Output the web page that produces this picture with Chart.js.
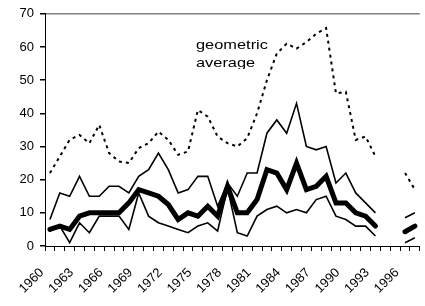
<!DOCTYPE html>
<html>
<head>
<meta charset="utf-8">
<script src="https://cdn.jsdelivr.net/npm/chart.js@4/dist/chart.umd.min.js"></script>
<style>
html,body{margin:0;padding:0;background:#fff;width:425px;height:306px;overflow:hidden;}
#wrap{position:relative;width:425px;height:306px;overflow:hidden;}
#c{position:absolute;left:0;top:0;}
#note{position:absolute;left:195.5px;top:36px;height:33px;overflow:hidden;white-space:nowrap;
  font-family:"Liberation Sans",Arial,sans-serif;font-size:13px;line-height:18.4px;color:#000;
  transform:scaleX(1.26);transform-origin:0 0;}
</style>
</head>
<body>
<div id="wrap">
<canvas id="c" width="440" height="306"></canvas>
<div id="note">geometric<br>average</div>
</div>
<script>
// ---- data ----
const years = ['1960','1961','1962','1963','1964','1965','1966','1967','1968','1969',
               '1970','1971','1972','1973','1974','1975','1976','1977','1978','1979',
               '1980','1981','1982','1983','1984','1985','1986','1987','1988','1989',
               '1990','1991','1992','1993','1994','1995','1996','1997'];
const tickLabelYears = ['1960','1963','1966','1969','1972','1975','1978','1981','1984','1987','1990','1993','1996'];
const yTickValues = [0,10,20,30,40,50,60,70];

const dottedSeries = [22,27,32,33.5,31,36.5,28,25.5,25,29.5,
                      31,34.5,32,27.5,28.5,41,39,33,31,30,
                      32.5,40,50,58,61,59.5,61.5,64,65.7,46,
                      46.5,32,33,27,null,null,22,17];
const upperSeries  = [8,16,15,21,15,15,18,18,16,21,
                      23,28,23,16,17,21,21,12,19,15,
                      22,22,34,38,34,43,30,29,30,19,
                      22,16,13,10,null,null,8.5,10];
const thickSeries  = [5,6,5,9,10,10,10,10,13,17,
                      16,15,12.5,8,10,9,12,9,18,10,
                      10,14,23,22,17,25,17,18,21,13,
                      13,10,9,6,null,null,4.3,6];
const lowerSeries  = [4.5,6,1,7,4,9,9,9,5,16,
                      9,7,6,5,4,6,7,4.5,17.5,4,
                      3,9,11,12,10,11,10,14,15,9,
                      8,6,6,3,null,null,1,2.5];

// ---- chart ----
const FONT = {family:'"Liberation Sans", Arial, sans-serif', size:13};
const lineBase = {borderColor:'#000', pointRadius:0, pointHoverRadius:0, tension:0, fill:false, spanGaps:false};

new Chart(document.getElementById('c'), {
  type:'line',
  data:{
    labels: years,
    datasets:[
      Object.assign({label:'dotted', data:dottedSeries, borderWidth:2, borderDash:[3,4]}, lineBase),
      Object.assign({label:'upper', data:upperSeries, borderWidth:1.6}, lineBase),
      Object.assign({label:'lower', data:lowerSeries, borderWidth:1.6}, lineBase),
      Object.assign({label:'geometric average', data:thickSeries, borderWidth:5, borderCapStyle:'round'}, lineBase)
    ]
  },
  options:{
    responsive:false, animation:false, devicePixelRatio:1,
    layout:{padding:{top:12, right:6, bottom:0, left:0}},
    plugins:{legend:{display:false}, tooltip:{enabled:false}},
    scales:{
      x:{
        offset:true,
        grid:{offset:true, drawOnChartArea:false, color:'#000', tickColor:'#000', tickLength:5, lineWidth:1},
        border:{color:'#000', width:1},
        ticks:{autoSkip:false, maxRotation:45, minRotation:45, padding:14, labelOffset:-8,
               color:'#000', font:FONT,
               callback:(v,i)=> tickLabelYears.includes(years[i]) ? years[i] : ''},
        afterFit:(s)=>{ s.height = 60; }
      },
      y:{
        min:0, max:70,
        afterBuildTicks:(s)=>{ s.ticks = yTickValues.map(v=>({value:v})); },
        grid:{color:(c)=> c.tick && c.tick.value===70 ? '#808080' : 'rgba(0,0,0,0)',
              tickColor:'#000', tickLength:5, lineWidth:1.5},
        border:{color:'#000', width:1},
        ticks:{padding:6, color:'#000', font:FONT},
        afterFit:(s)=>{ s.width = 45; }
      }
    }
  }
});
</script>
</body>
</html>
